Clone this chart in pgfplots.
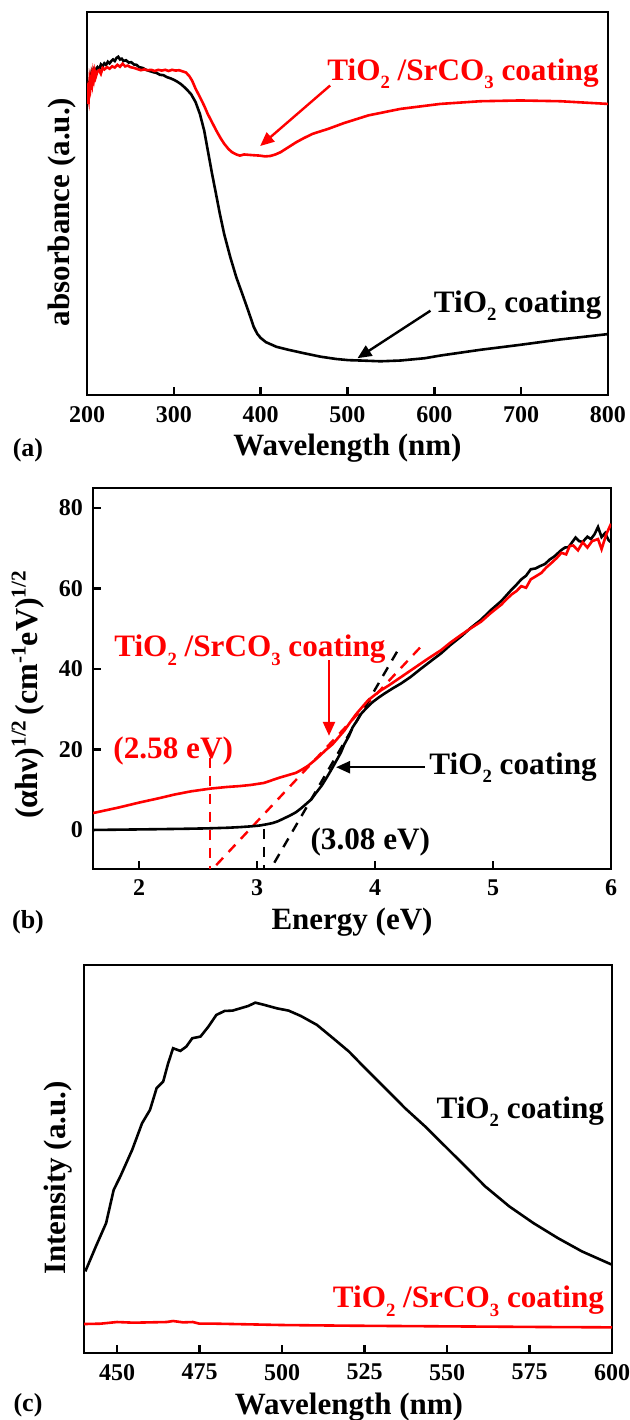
\documentclass[border=0pt]{standalone}
\usepackage{pgfplots}
\pgfplotsset{compat=1.18}
\usepackage{fontspec}
\setmainfont{Liberation Serif}
\usetikzlibrary{arrows.meta}
\newcommand\sub[1]{\raisebox{-0.6ex}{\scalebox{0.6}{#1}}}
\newcommand\sups[1]{\raisebox{0.8ex}{\scalebox{0.66}{#1}}}
\newcommand\labfont{\fontsize{15.5}{16}\selectfont\bfseries}
\newcommand\annfont{\fontsize{15.6}{16}\selectfont\bfseries}
\tikzset{arr/.style={line width=1.2pt, -{Triangle[length=7pt,width=6pt]}}}
\pgfplotsset{
  myaxis/.style={
    scale only axis, anchor=south west,
    axis line style={line width=1.2pt},
    every tick/.style={line width=1.2pt, black},
    tick align=inside, major tick length=4pt,
    ticklabel style={font=\fontsize{12}{12}\selectfont\bfseries},
    /pgf/number format/assume math mode=true,
    xticklabel style={yshift=-2pt},
    yticklabel style={xshift=-1.5pt},
    xtick pos=left, ytick pos=left,
  },
  blk/.style={black, line width=1.3pt},
  rd/.style={red, line width=1.3pt},
}
\begin{document}
\begin{tikzpicture}
\path[use as bounding box] (0pt,0pt) rectangle (314.5pt,710pt);

% ---------------- (a)
\begin{axis}[myaxis, at={(43.5pt,512.5pt)}, width=260.5pt, height=191.5pt,
  xmin=200, xmax=800, ymin=0, ymax=100, xtick={200,300,...,800}, ytick=\empty]
\addplot[blk] coordinates {
(200,77) (201,78) (202,81) (203,80.5) (204,83) (205,82) (206,84) (207,83.2) (208,84.5) (209,83.8)
(210,85) (212,85.6) (214,85.0) (216,86.3) (218,85.8) (220,86.6) (222,86.2) (224,87.0) (226,86.6)
(228,87.2) (230,87.6) (232,87.2) (234,88.0) (236,88.3) (238,87.6) (240,87.8) (242,87.2) (245,87.4)
(248,86.8) (251,86.9) (254,86.3) (257,86.2) (260,85.6) (264,85.4) (268,84.9) (272,84.6) (276,84.3)
(280,84.1) (284,83.6) (288,83.5) (292,83.0) (296,82.7) (300,82.3) (304,81.8) (308,81.2) (312,80.4)
(316,79.5) (320,78.5) (325,76.5) (330,73.4) (335,69.0) (339,64.0) (344,57.8) (349,52.0) (353,47.3)
(358,42.0) (365,36.0) (372,30.7) (379,26.3) (386,21.8) (392,17.8) (396,16.0) (400,14.9) (406,13.8)
(418,12.6) (432,11.8) (450,10.9) (469,10.0) (487,9.4) (501,9.1) (515,9.0) (538,8.8) (561,9.0)
(589,9.6) (607,10.3) (653,11.8) (699,13.1) (745,14.5) (800,15.9)};
\addplot[rd] coordinates {
(200,76) (201,79) (202,77.5) (203,82) (204,80.5) (205,83) (206,81.5) (207,84) (208,82.6) (209,84.3)
(210,83.0) (212,84.5) (214,84.8) (216,83.9) (218,85.4) (220,85.0) (223,85.6) (226,85.2) (229,85.8)
(232,85.5) (235,86.2) (238,85.7) (241,86.5) (244,85.8) (247,86.0) (250,85.6) (254,85.4) (258,85.1)
(262,84.8) (266,85.0) (270,84.8) (274,84.9) (278,84.6) (282,84.9) (286,84.7) (290,84.9) (294,84.6)
(298,84.9) (302,84.7) (306,84.8) (310,84.5) (314,84.2) (318,83.2) (321,82.1) (325,80.0) (330,77.8)
(335,75.5) (339,73.4) (344,71.2) (349,69.0) (354,67.0) (358,65.6) (363,64.2) (367,63.4) (372,62.8)
(376,62.5) (381,62.8) (386,62.7) (392,62.6) (399,62.5) (405,62.3) (411,62.4) (417,62.8) (423,63.4)
(432,64.7) (441,66.0) (450,67.1) (460,68.2) (478,69.5) (496,71.0) (524,73.0) (561,74.7) (607,76.0)
(653,76.7) (699,76.9) (745,76.7) (800,76.0)};
\draw[arr, red] (axis cs:480,80.8) -- (axis cs:399.4,65.0);
\draw[arr, black] (axis cs:595.5,22.0) -- (axis cs:511.5,9.6);
\node[font=\annfont, red] at (axis cs:633,83.9) {TiO\sub{2} /SrCO\sub{3} coating};
\node[font=\annfont, black] at (axis cs:696,23.3) {TiO\sub{2} coating};
\end{axis}

% ---------------- (b)
\begin{axis}[myaxis, at={(46.5pt,275.5pt)}, width=259pt, height=190.5pt,
  xmin=1.61, xmax=6.0, ymin=-9.7, ymax=85, xtick={2,3,4,5,6}, ytick={0,20,40,60,80}]
\addplot[red, line width=1.2pt, dash pattern=on 5pt off 4pt] coordinates {(2.60,18) (2.60,-12)};
\addplot[red, line width=1.2pt, dash pattern=on 5pt off 4pt] coordinates {(2.55,-12) (4.39,45.6)};
\addplot[black, line width=1.2pt, dash pattern=on 5pt off 4pt] coordinates {(3.06,0.3) (3.06,-12)};
\addplot[black, line width=1.2pt, dash pattern=on 5pt off 4pt] coordinates {(3.07,-12) (4.22,46)};
\addplot[blk] coordinates {
(1.61,0.0) (1.9,0.1) (2.17,0.2) (2.4,0.3) (2.58,0.4) (2.75,0.55) (2.85,0.7) (2.95,0.9) (3.02,1.1)
(3.08,1.4) (3.13,1.7) (3.18,2.2) (3.23,2.9) (3.28,3.6) (3.33,4.4) (3.37,5.3) (3.41,6.3) (3.46,7.6)
(3.50,9.2) (3.55,11.1) (3.59,13.0) (3.63,15.0) (3.67,17.1) (3.71,19.2) (3.74,21.3) (3.78,23.4)
(3.81,25.5) (3.85,27.3) (3.88,28.8) (3.93,30.4) (3.98,31.8) (4.03,32.9) (4.08,33.9) (4.15,35.2)
(4.22,36.4) (4.30,38.0) (4.39,40.1) (4.47,41.9) (4.56,43.9) (4.64,46.0) (4.73,48.1) (4.81,50.2)
(4.90,52.3) (4.98,54.6) (5.07,56.9) (5.15,59.5) (5.20,61.0) (5.24,62.3) (5.28,63.2) (5.32,64.8)
(5.36,65.0) (5.40,65.6) (5.44,66.1) (5.48,67.2) (5.52,68.0) (5.55,68.8) (5.58,69.6) (5.61,70.2)
(5.64,70.3) (5.67,71.5) (5.70,72.7) (5.73,71.8) (5.76,71.6) (5.80,72.9) (5.83,72.3) (5.86,73.5)
(5.89,75.3) (5.92,72.8) (5.95,73.8) (5.98,72.0) (6.0,71.5)};
\addplot[rd] coordinates {
(1.61,4.2) (1.83,5.6) (2.0,6.8) (2.17,7.9) (2.3,8.8) (2.44,9.6) (2.61,10.3) (2.75,10.7) (2.85,10.9)
(2.95,11.2) (3.06,11.7) (3.12,12.3) (3.19,13.0) (3.26,13.6) (3.33,14.2) (3.38,15.0) (3.43,15.9)
(3.48,17.1) (3.53,18.4) (3.58,19.8) (3.64,21.3) (3.69,23.0) (3.74,24.7) (3.79,26.8) (3.84,28.8)
(3.89,30.5) (3.94,32.2) (4.00,33.6) (4.05,34.7) (4.12,36.0) (4.18,37.2) (4.26,38.8) (4.35,40.6)
(4.45,42.6) (4.56,44.7) (4.64,46.6) (4.73,48.5) (4.81,50.1) (4.90,51.8) (4.98,53.9) (5.07,56.0)
(5.12,57.5) (5.16,58.6) (5.20,59.4) (5.24,60.6) (5.28,60.2) (5.32,62.3) (5.36,63.0) (5.41,63.9)
(5.45,65.2) (5.50,66.5) (5.54,67.6) (5.58,68.9) (5.62,68.5) (5.65,70.6) (5.68,70.7) (5.72,69.5)
(5.76,71.5) (5.80,70.2) (5.84,71.8) (5.89,72.3) (5.92,69.8) (5.96,73.5) (6.0,76.1)};
\draw[arr, red] (axis cs:3.61,42.2) -- (axis cs:3.61,23.4);
\draw[arr, black] (axis cs:4.42,15.6) -- (axis cs:3.67,15.6);
\node[font=\annfont, red] at (axis cs:2.94,44.7) {TiO\sub{2} /SrCO\sub{3} coating};
\node[font=\annfont, red] at (axis cs:2.29,19.6) {(2.58 eV)};
\node[font=\annfont, black] at (axis cs:5.17,15.5) {TiO\sub{2} coating};
\node[font=\annfont, black] at (axis cs:3.96,-2.9) {(3.08 eV)};
\end{axis}

% ---------------- (c)
\begin{axis}[myaxis, at={(42pt,33.5pt)}, width=264pt, height=194pt,
  xmin=440, xmax=600, ymin=0, ymax=1165, xtick={450,475,...,600}, ytick=\empty]
\addplot[blk] coordinates {
(440.4,245) (443.6,320) (446.7,390) (449,490) (451,530) (454.6,610) (457.6,690) (460,730)
(462,795) (464,815) (465.5,870) (467,915) (469.2,907) (471,920) (472.8,945) (475.3,950)
(477.7,980) (480.1,1015) (482.6,1027) (485,1028) (487.4,1035) (489.8,1042) (491.9,1052)
(494.7,1045) (498.4,1035) (502,1028) (505.7,1012) (510.6,985) (515.5,945) (520.3,905)
(525.2,855) (531.3,795) (537.3,735) (543.4,680) (549.5,620) (555.6,560) (561.6,500)
(568.9,440) (576.2,390) (583.6,345) (590.9,305) (600,265)};
\addplot[rd] coordinates {
(440,87) (445,88) (450,93) (455,91) (460,92) (465,93) (467,96) (470,92) (473,93) (475,88)
(480,88) (490,86) (500,84) (520,82) (550,80) (580,78) (600,77)};
\node[font=\annfont, black] at (axis cs:572.2,725) {TiO\sub{2} coating};
\node[font=\annfont, red] at (axis cs:556.5,155) {TiO\sub{2} /SrCO\sub{3} coating};
\end{axis}

% ---------------- outside labels
\node[font=\labfont] at (173.7pt,486pt) {Wavelength (nm)};
\node[font=\labfont, rotate=90] at (31pt,604pt) {absorbance (a.u.)};
\node[font=\fontsize{13}{13}\selectfont\bfseries] at (14pt,485pt) {(a)};

\node[font=\labfont] at (176pt,249pt) {Energy (eV)};
\node[font=\fontsize{16}{16}\selectfont\bfseries, rotate=90] at (14pt,362.5pt) {(αhν)\sups{1/2}\,(cm\sups{-1}eV)\sups{1/2}};
\node[font=\fontsize{13}{13}\selectfont\bfseries] at (14pt,249pt) {(b)};

\node[font=\labfont] at (174.5pt,6.5pt) {Wavelength (nm)};
\node[font=\labfont, rotate=90] at (29pt,121pt) {Intensity (a.u.)};
\node[font=\fontsize{13}{13}\selectfont\bfseries] at (14pt,7.5pt) {(c)};
\end{tikzpicture}
\end{document}
